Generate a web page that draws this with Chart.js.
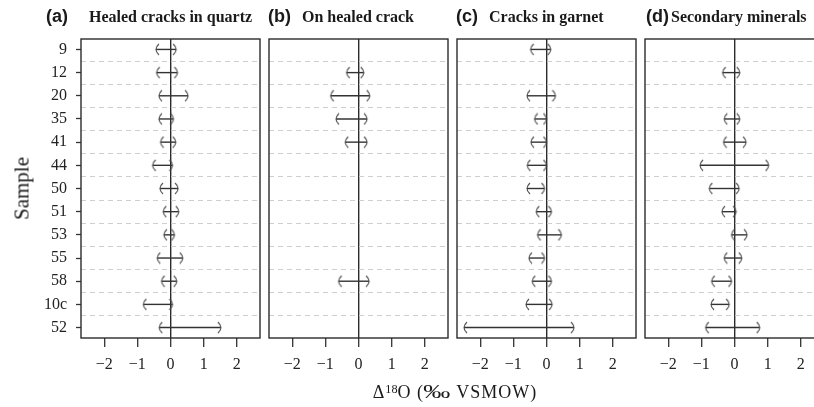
<!DOCTYPE html>
<html>
<head>
<meta charset="utf-8">
<script src="https://cdn.jsdelivr.net/npm/chart.js@4.4.1/dist/chart.umd.min.js"></script>
<style>
  html, body { margin: 0; padding: 0; background: #fff; overflow: hidden; width: 814px; height: 407px; }
  #wrap { position: relative; width: 814px; height: 407px; overflow: hidden; }
  #wrap canvas { position: absolute; top: 0; }
  .tag { position: absolute; top: 7px; font: bold 18px "Liberation Sans", Arial, sans-serif; line-height: 18px; color: #1a1a1a; white-space: nowrap; }
  .ttl { position: absolute; top: 9px; font: bold 16px "Liberation Serif", "Times New Roman", serif; line-height: 16px; color: #1a1a1a; white-space: nowrap; }
  #ylab { position: absolute; left: -30px; top: 178px; width: 100px; height: 21px; line-height: 21px; text-align: center;
          font: 21px "Liberation Serif", "Times New Roman", serif; color: #1a1a1a; transform: rotate(-90deg); }
  #xlab { position: absolute; left: 305px; top: 382px; width: 300px; text-align: center; line-height: 18px; letter-spacing: 1px;
          font: 18px "Liberation Serif", "Times New Roman", serif; color: #1a1a1a; white-space: nowrap; }
  #xlab sup { font-size: 0.68em; vertical-align: 0.45em; line-height: 0; letter-spacing: 0; }
  #xlab .pm { display: inline-block; transform: scaleX(1.5); margin: 0 4px; font-weight: normal; }
</style>
</head>
<body>
<div id="wrap">
  <canvas id="pa" width="262" height="407" style="left:0px"></canvas>
  <canvas id="pb" width="183" height="407" style="left:267px"></canvas>
  <canvas id="pc" width="183" height="407" style="left:455px"></canvas>
  <canvas id="pd" width="183" height="407" style="left:643px"></canvas>

  <div class="tag" style="left:46px">(a)</div><div class="ttl" style="left:89px">Healed cracks in quartz</div>
  <div class="tag" style="left:268px">(b)</div><div class="ttl" style="left:302px">On healed crack</div>
  <div class="tag" style="left:456px">(c)</div><div class="ttl" style="left:489px">Cracks in garnet</div>
  <div class="tag" style="left:646px">(d)</div><div class="ttl" style="left:671px">Secondary minerals</div>

  <div id="ylab">Sample</div>
  <div id="xlab">&Delta;<sup>18</sup>O (<span class="pm">&permil;</span> VSMOW)</div>
</div>

<script>
// Samples, top to bottom
const samples = ['9', '12', '20', '35', '41', '44', '50', '51', '53', '55', '58', '10c', '52'];

// Δ18O ranges (‰) per sample; null = not measured
const quartzLow   = [-0.44, -0.42, -0.35, -0.35, -0.30, -0.54, -0.32, -0.22, -0.20, -0.40, -0.27, -0.82, -0.34];
const quartzHigh  = [ 0.17,  0.21,  0.53,  0.09,  0.16,  0.06,  0.23,  0.25,  0.12,  0.37,  0.19,  0.06,  1.52];

const healedLow   = [null, -0.36, -0.84, -0.68, -0.40, null, null, null, null, null, -0.60, null, null];
const healedHigh  = [null,  0.16,  0.34,  0.26,  0.26, null, null, null, null, null,  0.32, null, null];

const garnetLow   = [-0.48, null, -0.59, -0.36, -0.47, -0.58, -0.59, -0.31, -0.27, -0.53, -0.43, -0.62, -2.49];
const garnetHigh  = [ 0.13, null,  0.27,  0.00,  0.00,  0.00, -0.06,  0.15,  0.45, -0.06,  0.15,  0.17,  0.83];

const mineralLow  = [null, -0.36, null, -0.31, -0.33, -1.04, -0.76, -0.38, -0.09, -0.31, -0.69, -0.71, -0.87];
const mineralHigh = [null,  0.16, null,  0.16,  0.35,  1.03,  0.14,  0.05,  0.38,  0.22, -0.09, -0.16,  0.76];

const xTickValues = [-2, -1, 0, 1, 2];

// Parenthesis-shaped end caps for the ranges
function makeCap(dir) {
  const c = document.createElement('canvas');
  c.width = 8; c.height = 13;
  const g = c.getContext('2d');
  g.strokeStyle = '#4a4a4a';
  g.lineWidth = 1.1;
  g.beginPath();
  if (dir < 0) { g.moveTo(7, 1); g.quadraticCurveTo(1, 6.5, 7, 12); }
  else         { g.moveTo(1, 1); g.quadraticCurveTo(7, 6.5, 1, 12); }
  g.stroke();
  return c;
}
const capLeft = makeCap(-1);
const capRight = makeCap(1);

// Box around each panel
const framePlugin = {
  id: 'frame',
  beforeDatasetsDraw(chart) {
    const { ctx, chartArea: a } = chart;
    ctx.save();
    ctx.strokeStyle = '#2b2b2b';
    ctx.lineWidth = 1.4;
    ctx.strokeRect(a.left, a.top, a.right - a.left, a.bottom - a.top);
    ctx.restore();
  }
};

const serif = '"Liberation Serif", "Times New Roman", serif';

function buildPanel(canvasId, low, high, withLabels) {
  const datasets = [];
  samples.forEach((s, i) => {
    if (low[i] === null) return;
    datasets.push({
      label: s,
      data: [{ x: low[i], y: i }, { x: high[i], y: i }],
      showLine: true,
      borderColor: '#333',
      borderWidth: 1.4,
      pointStyle: (ctx) => ctx.dataIndex === 0 ? capLeft : capRight,
      pointRadius: 4,
      pointHoverRadius: 4,
      clip: false
    });
  });

  return new Chart(document.getElementById(canvasId), {
    type: 'scatter',
    data: { datasets },
    plugins: [framePlugin],
    options: {
      responsive: false,
      animation: false,
      events: [],
      layout: { autoPadding: false, padding: { top: 39, bottom: 0, left: withLabels ? 0 : 2, right: 2 } },
      plugins: { legend: { display: false }, tooltip: { enabled: false } },
      scales: {
        x: {
          type: 'linear',
          min: -2.7,
          max: 2.7,
          afterBuildTicks: (s) => { s.ticks = xTickValues.map(v => ({ value: v })); },
          afterFit: (s) => { s.height = 69; s.paddingLeft = 0; s.paddingRight = 0; },
          border: { display: false },
          grid: {
            drawOnChartArea: true,
            color: (c) => (c.tick && c.tick.value === 0) ? '#2b2b2b' : 'rgba(0,0,0,0)',
            lineWidth: 1.4,
            tickLength: 9,
            tickColor: '#333',
            tickWidth: 1.3
          },
          ticks: {
            autoSkip: false,
            maxRotation: 0,
            padding: 8,
            color: '#222',
            font: { family: serif, size: 16 },
            callback: (v) => v < 0 ? '\u2212' + Math.abs(v) : String(v)
          }
        },
        y: {
          type: 'linear',
          reverse: true,
          min: -0.45,
          max: samples.length - 1 + 0.45,
          afterBuildTicks: (s) => {
            const t = [];
            samples.forEach((_, i) => {
              t.push({ value: i });
              if (i < samples.length - 1) t.push({ value: i + 0.5 });
            });
            s.ticks = t;
          },
          afterFit: (s) => { s.width = withLabels ? 81 : 0; s.paddingTop = 0; s.paddingBottom = 0; },
          border: { display: false, dash: [5, 4] },
          grid: {
            drawOnChartArea: true,
            drawTicks: withLabels,
            color: (c) => Number.isInteger(c.tick.value) ? 'rgba(0,0,0,0)' : '#cfcfcf',
            lineWidth: 1,
            tickLength: 5,
            tickWidth: 1.3,
            tickBorderDash: [],
            tickColor: (c) => Number.isInteger(c.tick.value) ? '#333' : 'rgba(0,0,0,0)'
          },
          ticks: {
            display: withLabels,
            autoSkip: false,
            padding: 9,
            color: '#222',
            font: { family: serif, size: 16 },
            callback: (v) => Number.isInteger(v) ? samples[v] : ''
          }
        }
      }
    }
  });
}

buildPanel('pa', quartzLow, quartzHigh, true);
buildPanel('pb', healedLow, healedHigh, false);
buildPanel('pc', garnetLow, garnetHigh, false);
buildPanel('pd', mineralLow, mineralHigh, false);
</script>
</body>
</html>
